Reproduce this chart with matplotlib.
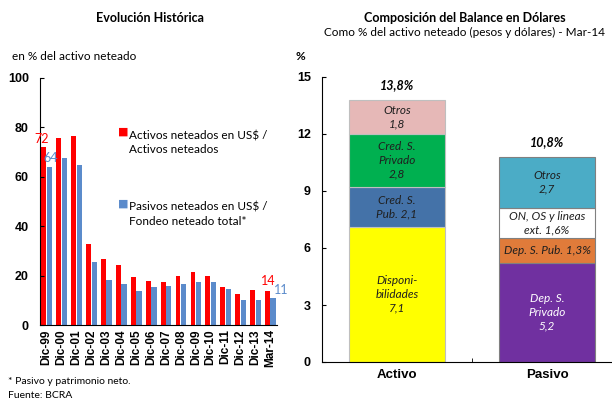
import numpy as np
import matplotlib.pyplot as plt

plt.rcParams['font.family'] = ['Lato', 'DejaVu Sans']

# DATOS - evolucion historica
periodos = ['Dic-99', 'Dic-00', 'Dic-01', 'Dic-02', 'Dic-03', 'Dic-04', 'Dic-05', 'Dic-06',
            'Dic-07', 'Dic-08', 'Dic-09', 'Dic-10', 'Dic-11', 'Dic-12', 'Dic-13', 'Mar-14']
activos_usd = [72, 75.7, 76.5, 32.8, 26.8, 24.3, 19.3, 17.8, 17.4, 19.7, 21.5, 19.7, 15.4, 12.7, 14.1, 13.9]
pasivos_usd = [64, 67.7, 64.9, 25.5, 18.1, 16.5, 13.8, 15.3, 15.7, 16.6, 17.4, 17.4, 14.5, 10.1, 10.1, 10.8]

# DATOS - composicion del balance
columnas = ['Activo', 'Pasivo']
activo_vals = [7.1, 2.1, 2.8, 1.8]
activo_txt = ['Disponi-\nbilidades\n7,1', 'Cred. S.\nPub. 2,1', 'Cred. S.\nPrivado\n2,8', 'Otros\n1,8']
activo_col = ['#FFFF00', '#4472A8', '#00B050', '#E6B8B7']
pasivo_vals = [5.2, 1.3, 1.6, 2.7]
pasivo_txt = ['Dep. S.\nPrivado\n5,2', 'Dep. S. Pub. 1,3%', 'ON, OS y lineas\next. 1,6%', 'Otros\n2,7']
pasivo_col = ['#7030A0', '#E07B3A', '#FFFFFF', '#4BACC6']
totales = ['13,8%', '10,8%']

fig = plt.figure(figsize=(6.12, 4.01), dpi=100)

# PANEL IZQUIERDO
ax1 = fig.add_axes([40/612, 1-325/401, 237/612, 247/401])
x = np.arange(len(periodos))
ax1.bar(x - 0.19, activos_usd, 0.32, color='#FF0000')
ax1.bar(x + 0.19, pasivos_usd, 0.36, color='#5B8BCB')
ax1.set_xlim(-0.45, 15.45)
ax1.set_ylim(0, 100)
ax1.set_yticks(range(0, 101, 20))
ax1.set_xticks(x)
ax1.set_xticklabels(periodos, rotation=90, fontweight='bold', fontsize=8.5,
                    family=['Liberation Sans', 'DejaVu Sans'])
for lab in ax1.get_yticklabels():
    lab.set_fontweight('bold'); lab.set_fontsize(9); lab.set_family(['Liberation Sans'])
ax1.tick_params(axis='y', direction='in', length=3, pad=8)
ax1.tick_params(axis='x', length=0, pad=3)
ax1.spines['top'].set_visible(False)
ax1.spines['right'].set_visible(False)

ax1.text(-0.35, 73, '72', color='#FF0000', fontsize=9, ha='center', va='bottom')
ax1.text(0.25, 65, '64', color='#5B8BCB', fontsize=9, ha='center', va='bottom')
ax1.text(14.85, 15.2, '14', color='#FF0000', fontsize=9, ha='center', va='bottom')
ax1.text(15.75, 11.8, '11', color='#5B8BCB', fontsize=9, ha='center', va='bottom')

ax1.text(4.75, 78.5, '\u25A0', color='#FF0000', fontsize=8, va='center')
ax1.text(5.55, 78.8, 'Activos neteados en US$ /\nActivos neteados', fontsize=8.5, va='top',
         linespacing=1.3)
ax1.text(4.75, 49.5, '\u25A0', color='#5B8BCB', fontsize=8, va='center')
ax1.text(5.55, 49.8, 'Pasivos neteados en US$ /\nFondeo neteado total*', fontsize=8.5, va='top',
         linespacing=1.3)

fig.text(150/612, 1-18/401, 'Evolución Histórica', fontweight='bold', fontsize=9, ha='center', va='center')
fig.text(12/612, 1-57/401, 'en % del activo neteado', fontsize=8.5, va='center')
fig.text(8/612, 1-382/401, '* Pasivo y patrimonio neto.', fontsize=7.5, va='center')
fig.text(8/612, 1-396/401, 'Fuente: BCRA', fontsize=7.5, va='center')

# PANEL DERECHO
ax2 = fig.add_axes([322/612, 1-362/401, 300/612, 285/401])
xc = np.arange(len(columnas))
base = 0
for v, t, c in zip(activo_vals, activo_txt, activo_col):
    ax2.bar(xc[0], v, 0.64, bottom=base, color=c, edgecolor='#BFBFBF', linewidth=0.8)
    ax2.text(xc[0], base + v / 2, t, ha='center', va='center', style='italic', fontsize=8.5,
             color='#1F1F1F', linespacing=1.3)
    base += v
ax2.text(xc[0], base + 0.45, totales[0], ha='center', va='bottom', style='italic',
         fontweight='bold', fontsize=9)
base = 0
for v, t, c in zip(pasivo_vals, pasivo_txt, pasivo_col):
    ax2.bar(xc[1], v, 0.64, bottom=base, color=c, edgecolor='#808080', linewidth=0.8)
    ax2.text(xc[1], base + v / 2, t, ha='center', va='center', style='italic', fontsize=8.5,
             color='white' if c == '#7030A0' else '#1F1F1F', linespacing=1.3)
    base += v
ax2.text(xc[1], base + 0.45, totales[1], ha='center', va='bottom', style='italic',
         fontweight='bold', fontsize=9)

ax2.set_xlim(-0.5, 1.5)
ax2.set_ylim(0, 15)
ax2.set_yticks(range(0, 16, 3))
ax2.set_xticks(xc)
ax2.set_xticklabels(columnas, fontweight='bold', fontsize=9.5, family=['Liberation Sans'])
for lab in ax2.get_yticklabels():
    lab.set_fontweight('bold'); lab.set_fontsize(9); lab.set_family(['Liberation Sans'])
ax2.set_xticks([0.5], minor=True)
ax2.tick_params(axis='y', direction='in', length=3, pad=8)
ax2.tick_params(axis='x', which='major', length=0, pad=5)
ax2.tick_params(axis='x', which='minor', direction='in', length=3)
ax2.spines['top'].set_visible(False)
ax2.spines['right'].set_visible(False)

fig.text(465/612, 1-18/401, 'Composición del Balance en Dólares', fontweight='bold', fontsize=9,
         ha='center', va='center')
fig.text(465/612, 1-32/401, 'Como % del activo neteado (pesos y dólares) - Mar-14', fontsize=8.5,
         ha='center', va='center')
fig.text(300/612, 1-57/401, '%', fontsize=8.5, fontweight='bold', ha='center', va='center')

plt.savefig('out.png', dpi=100)
